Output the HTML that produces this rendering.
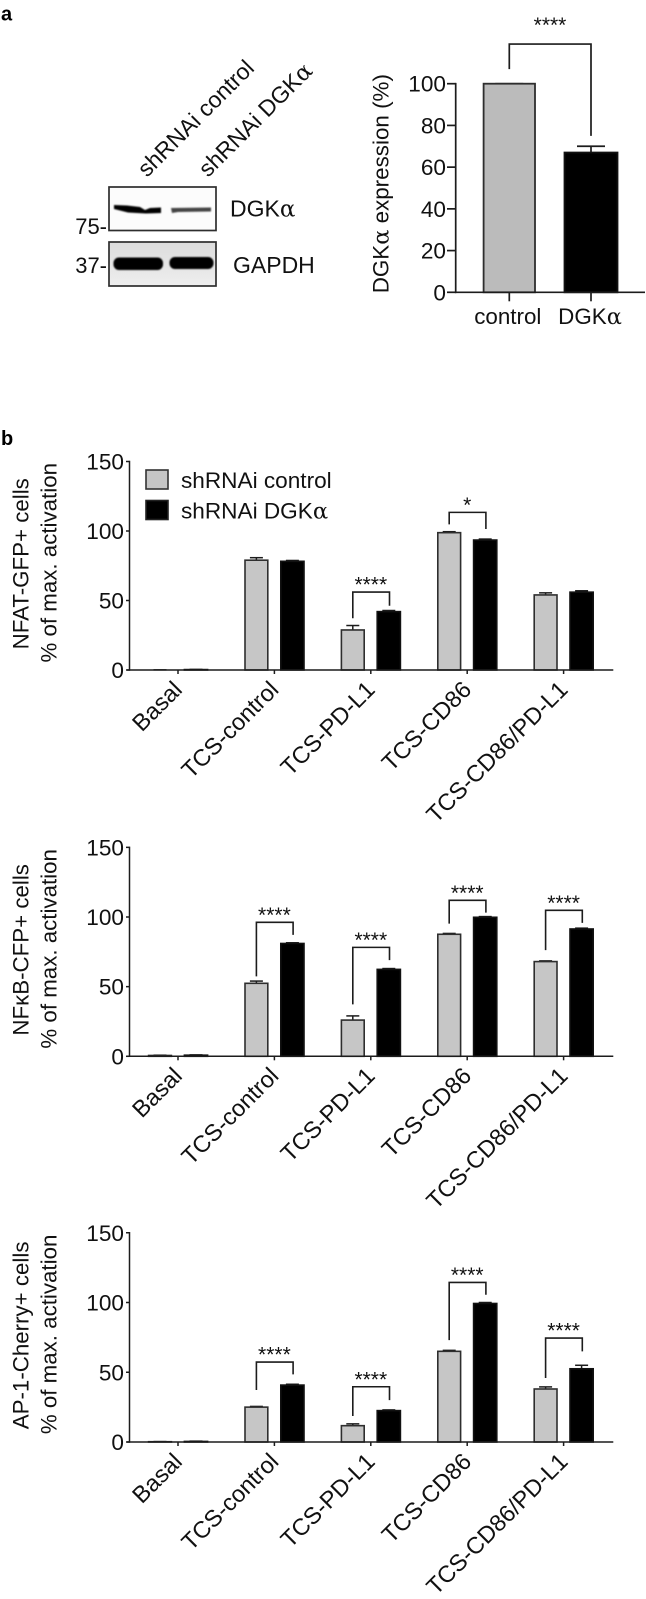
<!DOCTYPE html>
<html lang="en">
<head>
<meta charset="utf-8">
<title>DGK-alpha knockdown figure</title>
<style>
  html, body { margin: 0; padding: 0; background: #fff; }
  svg { display: block; }
  text { font-family: "Liberation Sans", sans-serif; font-size: 22px; fill: #111; }
  .alpha { font-family: "DejaVu Serif", "Liberation Serif", serif; }
</style>
</head>
<body>
<svg id="fig" xmlns="http://www.w3.org/2000/svg" width="646" height="1599" viewBox="0 0 646 1599">
  <defs>
    <filter id="b1" x="-20%" y="-80%" width="140%" height="260%"><feGaussianBlur stdDeviation="0.7"/></filter>
    <filter id="b2" x="-20%" y="-80%" width="140%" height="260%"><feGaussianBlur stdDeviation="0.9"/></filter>
    <linearGradient id="gapdhBg" x1="0" y1="0" x2="0" y2="1"><stop offset="0" stop-color="#dcdcdc"/><stop offset="1" stop-color="#eeeeee"/></linearGradient>
  </defs>
  <text x="1" y="20.5" style="font-size:20px;font-weight:bold;fill:#000">a</text>
  <text x="1" y="445" style="font-size:20px;font-weight:bold;fill:#000">b</text>

  <g>
    <text transform="translate(147 178) rotate(-45)" style="font-size:23px">shRNAi control</text>
    <text transform="translate(208 178) rotate(-45)" style="font-size:23px">shRNAi DGK<tspan class="alpha">α</tspan></text>
    <rect x="109" y="187" width="107" height="43.5" fill="#fcfcfc" stroke="#2e2e2e" stroke-width="1.7"/>
    <g filter="url(#b1)">
      <path d="M114 205 L127 205.5 L140 207 L145 210 L150 208 L161 207.5 L161 213 L146 213.5 L128 212.5 L114 209 Z" fill="#000"/>
      <path d="M171 208 L211 207.5 L211 211.5 L178 212 L172 213 Z" fill="#444"/>
    </g>
    <rect x="109" y="242" width="107" height="44" fill="url(#gapdhBg)" stroke="#2e2e2e" stroke-width="1.7"/>
    <g filter="url(#b2)">
      <rect x="113.5" y="257.5" width="49.5" height="12.5" rx="5.5" fill="#000"/>
      <rect x="169.5" y="257" width="44" height="12" rx="5.5" fill="#000"/>
    </g>
    <text x="230" y="216.5" style="font-size:23px">DGK<tspan class="alpha">α</tspan></text>
    <text x="233" y="273" style="font-size:23px">GAPDH</text>
    <text x="107" y="234" text-anchor="end">75-</text>
    <text x="107" y="273" text-anchor="end">37-</text>
  </g>

  <g>
    <rect x="146" y="470" width="22" height="19" fill="#c6c6c6" stroke="#333" stroke-width="1.6"/>
    <text x="181" y="488" style="font-size:22.6px">shRNAi control</text>
    <rect x="146" y="500.5" width="22" height="19" fill="#000" stroke="#222" stroke-width="1.6"/>
    <text x="181" y="518.5" style="font-size:22.6px">shRNAi DGK<tspan class="alpha">α</tspan></text>
  </g>
</svg>

<script>
// Panel a data
const expressionCategories = ['control', 'DGKα'];
const expressionValues = [100, 67];
const expressionErrorTops = [100, 70];
const expressionTicks = [0, 20, 40, 60, 80, 100];

// Panel b data (shared)
const categories = ['Basal', 'TCS-control', 'TCS-PD-L1', 'TCS-CD86', 'TCS-CD86/PD-L1'];
const activationTicks = [0, 50, 100, 150];

// NFAT-GFP
const nfatControl = [0, 79, 28.8, 98.8, 54];
const nfatControlErr = [0.1, 80.8, 32, 99.5, 55.5];
const nfatDgk = [0.3, 78.2, 42, 93.5, 56];
const nfatDgkErr = [0.4, 78.8, 42.8, 94.2, 57];
const nfatStars = ['', '', '****', '*', ''];
const nfatBracketTop = [0, 0, 56.1, 113.4, 0];
const nfatBracketLeft = [0, 0, 37.2, 104.8, 0];
const nfatBracketRight = [0, 0, 46.2, 101.4, 0];

// NF-kB-CFP
const nfkbControl = [0.6, 52.4, 26, 87.6, 68];
const nfkbControlErr = [0.8, 54, 29, 88.2, 68.5];
const nfkbDgk = [0.8, 81, 62.4, 99.8, 91.4];
const nfkbDgkErr = [1, 81.5, 63, 100.3, 92];
const nfkbStars = ['', '****', '****', '****', '****'];
const nfkbBracketTop = [0, 96.2, 78.2, 112, 104.8];
const nfkbBracketLeft = [0, 57.4, 37.3, 95.2, 76.2];
const nfkbBracketRight = [0, 87.2, 69, 103.1, 95.8];

// AP-1-Cherry
const ap1Control = [0.2, 25, 11.7, 65, 38];
const ap1ControlErr = [0.3, 25.5, 13, 65.7, 39.5];
const ap1Dgk = [0.4, 40.8, 22.5, 99.3, 52.5];
const ap1DgkErr = [0.6, 41.4, 23, 100, 55];
const ap1Stars = ['', '****', '****', '****', '****'];
const ap1BracketTop = [0, 57.3, 39.6, 114.4, 74.5];
const ap1BracketLeft = [0, 37.3, 18.6, 73, 45.9];
const ap1BracketRight = [0, 48.5, 30, 105.6, 65];

const svg = document.getElementById('fig');
const NS = 'http://www.w3.org/2000/svg';

function make(tag, parent, props, txt) {
  const el = document.createElementNS(NS, tag);
  for (const k in props) el.setAttribute(k, props[k]);
  if (txt !== undefined) {
    const parts = String(txt).split('α');
    el.textContent = parts[0];
    if (parts.length > 1) {
      const a = document.createElementNS(NS, 'tspan');
      a.setAttribute('class', 'alpha');
      a.textContent = 'α';
      el.appendChild(a);
      el.appendChild(document.createTextNode(parts[1]));
    }
  }
  parent.appendChild(el);
  return el;
}

function line(parent, name, x1, y1, x2, y2, w) {
  const el = make('line', parent, { x1, y1, x2, y2, stroke: '#1c1c1c', 'stroke-width': w });
  
  
  return el;
}

function label(parent, name, props, txt) {
  const el = make('text', parent, props, txt);
  
  
  return el;
}

function bar(parent, name, cx, halfW, yTop, yBase, fill, w) {
  const el = make('rect', parent, { x: cx - halfW, y: yTop, width: halfW * 2, height: Math.max(0, yBase - yTop), fill, stroke: fill === '#000' ? '#111' : '#2e2e2e', 'stroke-width': w });
  
  
  return el;
}

function bracket(parent, name, xL, xR, yTop, yL, yR, w) {
  const el = make('path', parent, { d: `M${xL} ${yL} V${yTop} H${xR} V${yR}`, fill: 'none', stroke: '#1c1c1c', 'stroke-width': w });
  
  
  return el;
}

function drawExpressionChart() {
  const g = make('g', svg, {});
  
  
  const y = v => 292.3 - v * 2.086;
  const x = i => 509.3 + i * 81.7;
  const barFills = ['#bbbbbb', '#000'];
  expressionCategories.forEach((c, i) => {
    const halfW = i === 0 ? 25.7 : 26.5;
    line(g, 'error-bar-' + c, x(i), y(expressionValues[i]), x(i), y(expressionErrorTops[i]), 1.7);
    line(g, 'error-cap-' + c, x(i) - 14, y(expressionErrorTops[i]), x(i) + 14, y(expressionErrorTops[i]), 1.7);
    bar(g, 'bar-' + c, x(i), halfW, y(expressionValues[i]), y(0), barFills[i], 1.8);
    line(g, 'x-tick-' + c, x(i), y(0), x(i), y(0) + 9, 1.7);
    label(g, 'x-label-' + c, { x: x(i) + (i === 0 ? -1.5 : -1), y: 324, 'text-anchor': 'middle', style: 'font-size:22.4px' }, c);
  });
  line(g, 'y-axis', 455.7, y(100) - 0.8, 455.7, y(0) + 0.8, 1.7);
  line(g, 'x-axis', 455, y(0), 645, y(0), 1.7);
  expressionTicks.forEach(t => {
    line(g, 'y-tick-' + t, 447, y(t), 455.7, y(t), 1.7);
    label(g, 'y-label-' + t, { x: 446, y: y(t) + 8, 'text-anchor': 'end', style: 'font-size:22.6px' }, t);
  });
  label(g, 'y-axis-title', { transform: 'translate(388.3 183.7) rotate(-90)', 'text-anchor': 'middle', style: 'font-size:22.4px' }, 'DGKα expression (%)');
  bracket(g, 'significance-bracket', x(0), x(1), y(119), y(107), y(75), 1.7);
  label(g, 'significance-stars', { x: 550, y: 32, 'text-anchor': 'middle', style: 'font-size:21px' }, '****');
}

function drawActivationChart(prefix, origin, scale, title, ctrl, ctrlErr, dgk, dgkErr, stars, bTop, bLeft, bRight) {
  const g = make('g', svg, {});
  
  
  const y = v => origin - v * scale;
  const x = i => 178 + i * 96.4;
  categories.forEach((c, i) => {
    const xa = x(i) - 18, xb = x(i) + 18;
    line(g, prefix + '-error-control-' + i, xa, y(ctrl[i]), xa, y(ctrlErr[i]), 1.5);
    line(g, prefix + '-error-cap-control-' + i, xa - 6.5, y(ctrlErr[i]), xa + 6.5, y(ctrlErr[i]), 1.5);
    line(g, prefix + '-error-dgka-' + i, xb, y(dgk[i]), xb, y(dgkErr[i]), 1.5);
    line(g, prefix + '-error-cap-dgka-' + i, xb - 6.5, y(dgkErr[i]), xb + 6.5, y(dgkErr[i]), 1.5);
    bar(g, prefix + '-bar-control-' + i, xa, 11.4, y(ctrl[i]), origin, '#c6c6c6', 1.6);
    bar(g, prefix + '-bar-dgka-' + i, xb, 11.6, y(dgk[i]), origin, '#000', 1.6);
    line(g, prefix + '-x-tick-' + i, x(i), origin, x(i), origin + 4, 1.5);
    label(g, prefix + '-x-label-' + i, { transform: `translate(${x(i) + 5.5} ${origin + 21}) rotate(-45)`, 'text-anchor': 'end', style: 'font-size:23.5px' }, c);
    if (stars[i]) {
      bracket(g, prefix + '-bracket-' + i, xa, xb + 0.7, y(bTop[i]), y(bLeft[i]), y(bRight[i]), 1.6);
      label(g, prefix + '-stars-' + i, { x: x(i), y: y(bTop[i]) - 0.5, 'text-anchor': 'middle', style: 'font-size:21px' }, stars[i]);
    }
  });
  line(g, prefix + '-y-axis', 129.5, y(150) - 0.7, 129.5, origin + 0.7, 1.5);
  line(g, prefix + '-x-axis', 127, origin, 613.3, origin, 1.5);
  activationTicks.forEach(t => {
    line(g, prefix + '-y-tick-' + t, 126, y(t), 129.5, y(t), 1.5);
    label(g, prefix + '-y-label-' + t, { x: 124, y: y(t) + 8, 'text-anchor': 'end', style: 'font-size:22.6px' }, t);
  });
  const mid = y(75) - 3;
  label(g, prefix + '-y-title-line-1', { transform: `translate(28.3 ${mid + 1}) rotate(-90)`, 'text-anchor': 'middle', style: 'font-size:22.3px' }, title);
  label(g, prefix + '-y-title-line-2', { transform: `translate(56.7 ${mid}) rotate(-90)`, 'text-anchor': 'middle', style: 'font-size:22.3px' }, '% of max. activation');
}

drawExpressionChart();
drawActivationChart('nfat', 670, 1.39, 'NFAT-GFP+ cells', nfatControl, nfatControlErr, nfatDgk, nfatDgkErr, nfatStars, nfatBracketTop, nfatBracketLeft, nfatBracketRight);
drawActivationChart('nfkb', 1056.3, 1.393, 'NFκB-CFP+ cells', nfkbControl, nfkbControlErr, nfkbDgk, nfkbDgkErr, nfkbStars, nfkbBracketTop, nfkbBracketLeft, nfkbBracketRight);
drawActivationChart('ap1', 1442, 1.395, 'AP-1-Cherry+ cells', ap1Control, ap1ControlErr, ap1Dgk, ap1DgkErr, ap1Stars, ap1BracketTop, ap1BracketLeft, ap1BracketRight);
</script>
</body>
</html>
